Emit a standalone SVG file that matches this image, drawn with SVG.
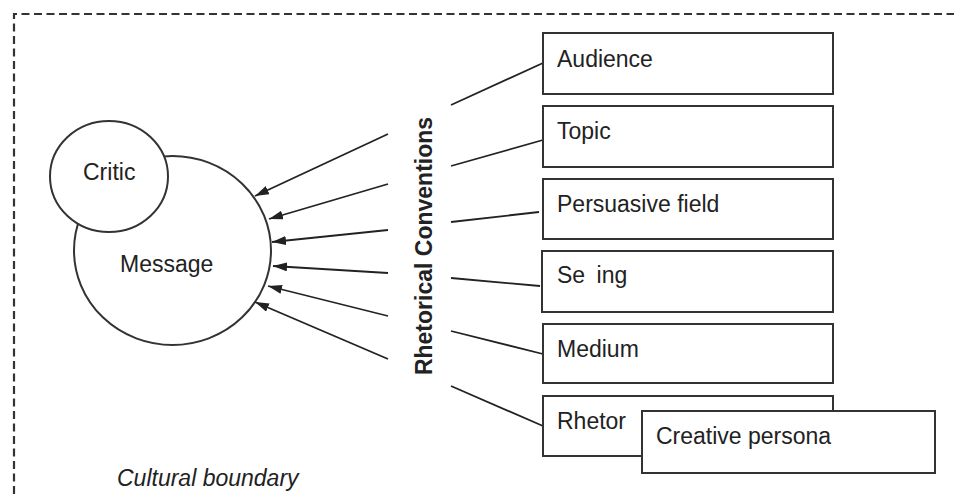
<svg xmlns="http://www.w3.org/2000/svg" width="954" height="494" viewBox="0 0 954 494">
  <defs>
    <style>
      .lbl { font-family: "Liberation Sans", Arial, sans-serif; font-size: 23px; fill: #222; }
      .bold { font-weight: bold; }
      .ital { font-style: italic; }
      .box { fill: #fff; stroke: #333; stroke-width: 2; }
      .circ { fill: #fff; stroke: #333; stroke-width: 2; }
      .edge { stroke: #222; stroke-width: 1.8; fill: none; }
      .boundary { stroke: #333; stroke-width: 2.2; stroke-dasharray: 8 4.5; fill: none; }
    </style>
    <marker id="arrow" viewBox="0 0 14 9" refX="14" refY="4.5" markerWidth="14" markerHeight="9" markerUnits="userSpaceOnUse" orient="auto">
      <path d="M0,0 L14,4.5 L0,9 Z" fill="#222"/>
    </marker>
  </defs>

  <rect width="954" height="494" fill="#fff"/>

  <!-- cultural boundary (dashed frame, open to the right and bottom) -->
  <g id="boundary">
    <path class="boundary" d="M14,494 L14,14 L954,14"/>
    <text class="lbl ital" x="117" y="486">Cultural boundary</text>
  </g>

  <!-- message and critic -->
  <g id="message">
    <ellipse class="circ" cx="172.5" cy="250.5" rx="98.5" ry="94.5"/>
    <text class="lbl" x="120" y="272">Message</text>
  </g>
  <g id="critic">
    <ellipse class="circ" cx="109" cy="176.5" rx="59" ry="55.5"/>
    <text class="lbl" x="83" y="180">Critic</text>
  </g>

  <!-- rhetorical conventions label -->
  <g id="conventions">
    <text class="lbl bold" text-anchor="middle" transform="translate(432,246) rotate(-90)">Rhetorical Conventions</text>
  </g>

  <!-- connectors -->
  <g id="connectors">
    <line class="edge" x1="388" y1="134" x2="255" y2="196" marker-end="url(#arrow)"/>
    <line class="edge" x1="388" y1="184" x2="269" y2="219" marker-end="url(#arrow)"/>
    <line class="edge" x1="388" y1="230" x2="272" y2="242" marker-end="url(#arrow)"/>
    <line class="edge" x1="388" y1="273" x2="273" y2="266" marker-end="url(#arrow)"/>
    <line class="edge" x1="388" y1="316" x2="268" y2="286" marker-end="url(#arrow)"/>
    <line class="edge" x1="388" y1="359" x2="255" y2="302" marker-end="url(#arrow)"/>

    <line class="edge" x1="451" y1="105" x2="543" y2="63"/>
    <line class="edge" x1="451" y1="166" x2="543" y2="140"/>
    <line class="edge" x1="451" y1="222" x2="539" y2="212"/>
    <line class="edge" x1="451" y1="278" x2="540" y2="286"/>
    <line class="edge" x1="451" y1="331" x2="543" y2="354"/>
    <line class="edge" x1="451" y1="386" x2="543" y2="426"/>
  </g>

  <!-- convention boxes -->
  <g id="audience">
    <rect class="box" x="543" y="33" width="290" height="61"/>
    <text class="lbl" x="557" y="67">Audience</text>
  </g>
  <g id="topic">
    <rect class="box" x="543" y="106" width="290" height="61"/>
    <text class="lbl" x="557" y="139">Topic</text>
  </g>
  <g id="persuasive-field">
    <rect class="box" x="543" y="179" width="290" height="60"/>
    <text class="lbl" x="557" y="212">Persuasive field</text>
  </g>
  <g id="setting">
    <rect class="box" x="542" y="251" width="291" height="61"/>
    <text class="lbl" x="557" y="283">Se <tspan dx="5">ing</tspan></text>
  </g>
  <g id="medium">
    <rect class="box" x="543" y="324" width="290" height="59"/>
    <text class="lbl" x="557" y="357">Medium</text>
  </g>
  <g id="rhetor">
    <rect class="box" x="543" y="396" width="290" height="60"/>
    <text class="lbl" x="557" y="429">Rhetor</text>
  </g>
  <g id="creative-persona">
    <rect class="box" x="642" y="411" width="293" height="62"/>
    <text class="lbl" x="656" y="444">Creative persona</text>
  </g>
</svg>
